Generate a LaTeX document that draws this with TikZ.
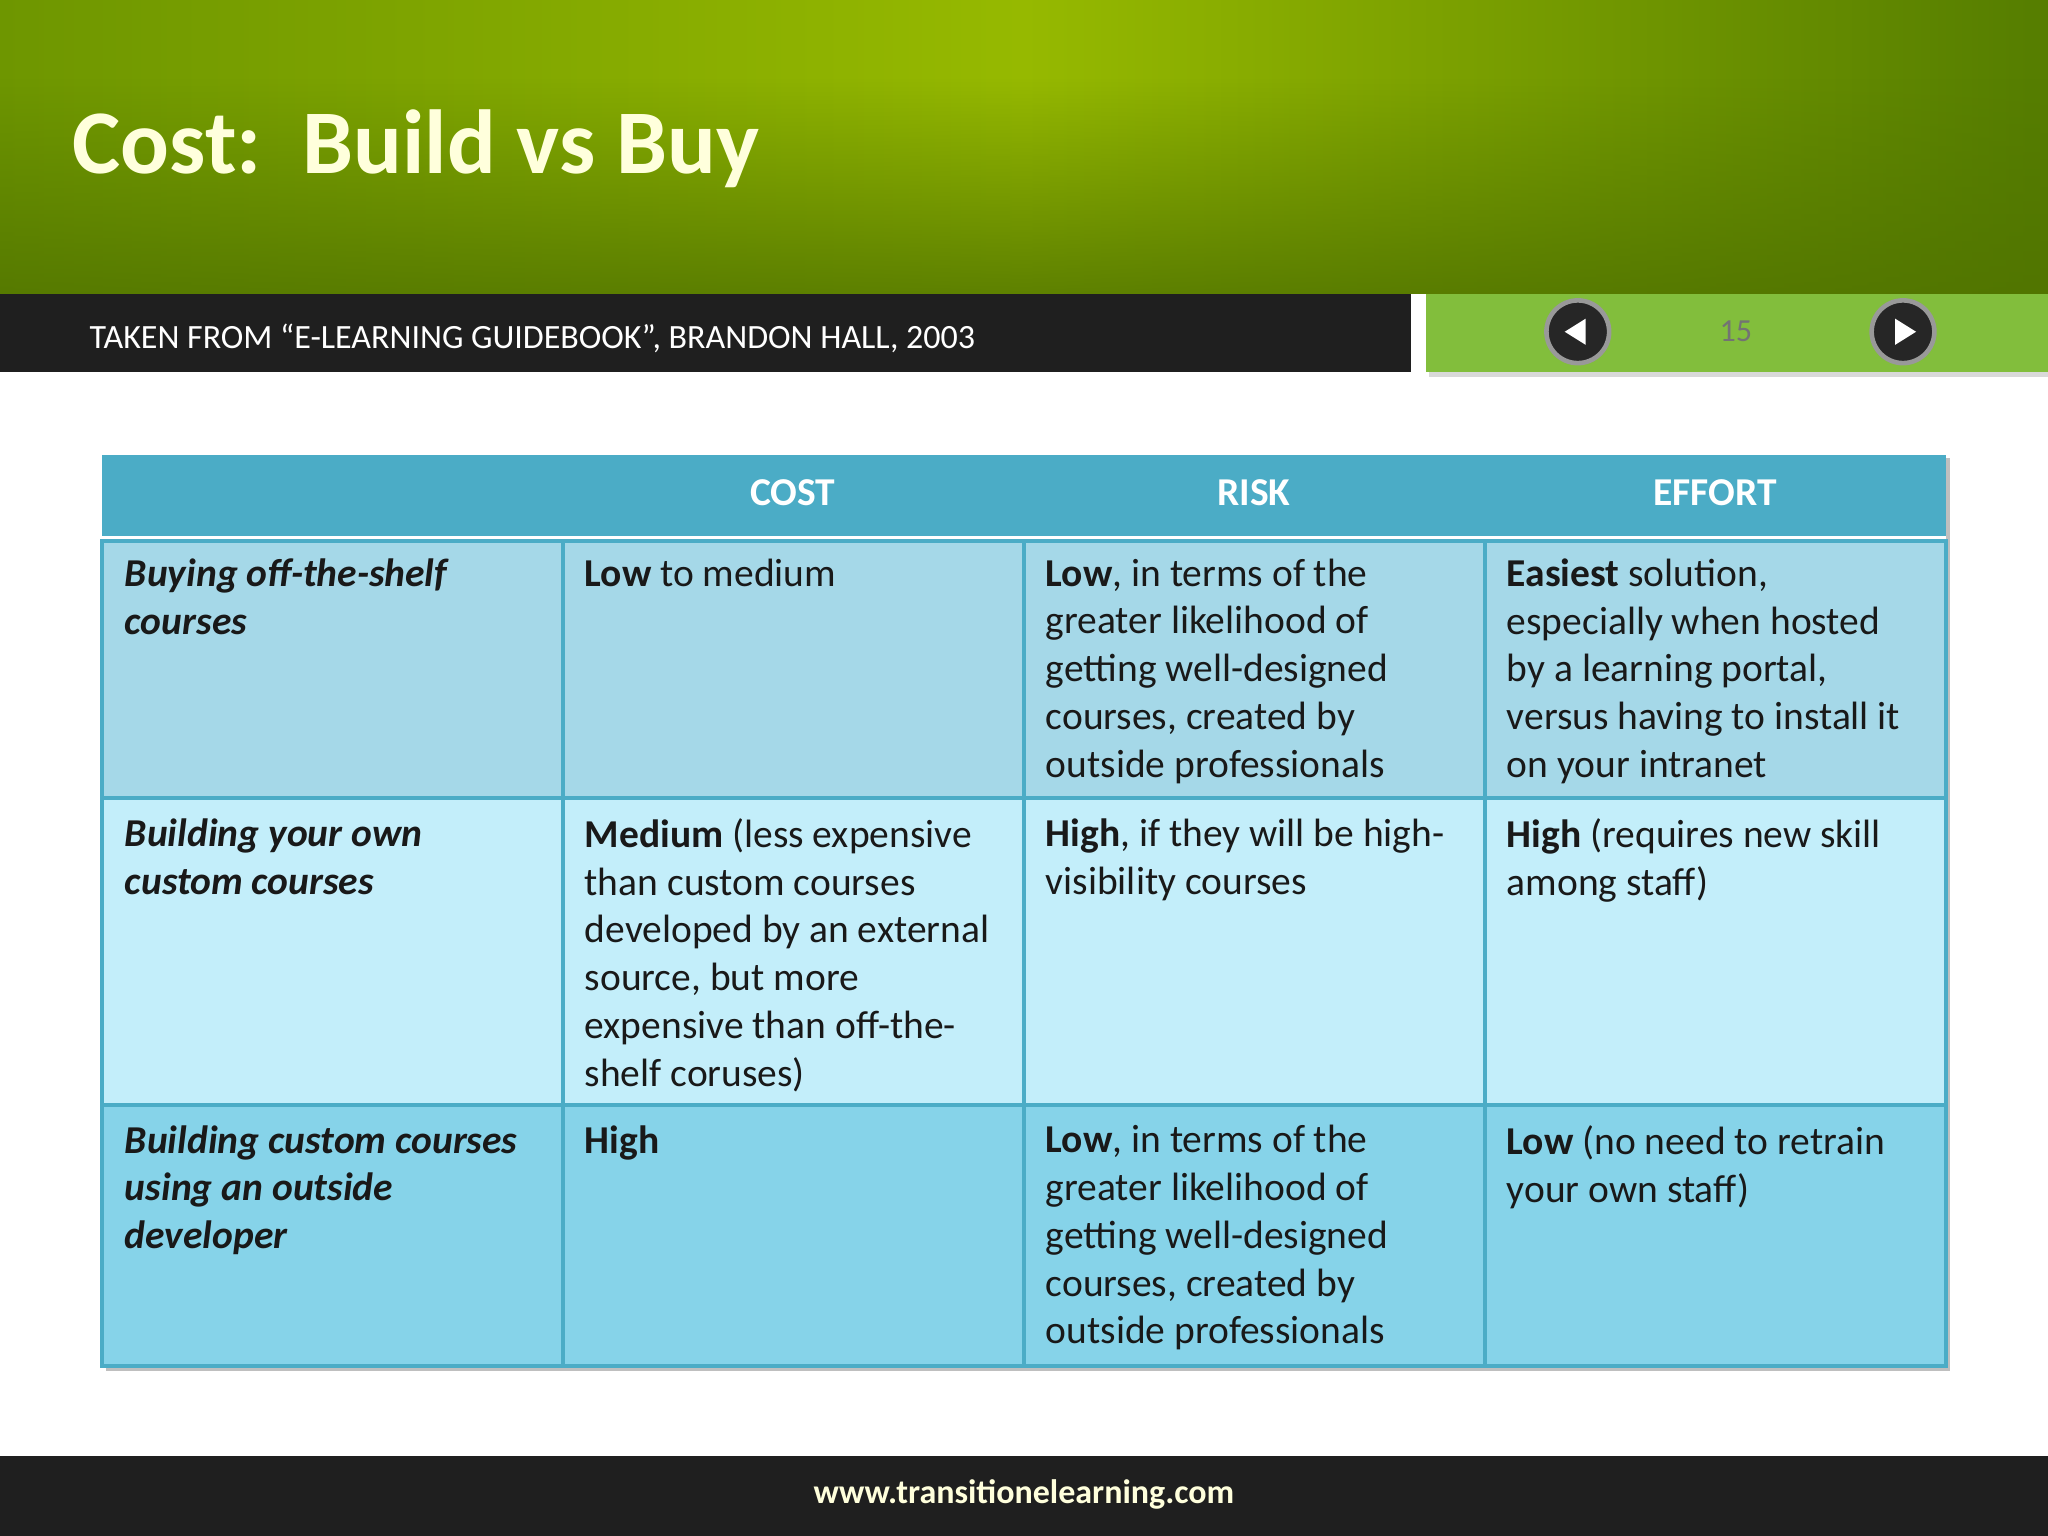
\documentclass[tikz,border=0pt]{standalone}
\usepackage{fontspec}
\usetikzlibrary{fadings}
\setmainfont{Carlito}
\definecolor{hdr}{RGB}{75,172,198}
\definecolor{r1}{RGB}{165,216,232}
\definecolor{r2}{RGB}{195,238,250}
\definecolor{r3}{RGB}{134,211,233}
\definecolor{gL}{RGB}{110,150,0}
\definecolor{gM}{RGB}{150,185,0}
\definecolor{gR}{RGB}{85,125,0}
\definecolor{gD}{RGB}{80,115,0}
\definecolor{gbar}{RGB}{130,190,60}
\definecolor{cream}{RGB}{255,255,220}
\begin{document}
\begin{tikzpicture}[x=0.01cm,y=-0.01cm,
  body/.style={anchor=north west,align=left,inner sep=0pt,font=\fontsize{8.6pt}{10.4pt}\selectfont,text=black!90},
  head/.style={text=white,font=\fontsize{8.6pt}{10pt}\selectfont\bfseries},
  btn/.style={circle,fill=black!85,draw=black!40,line width=1pt,minimum size=0.48cm,inner sep=0pt}]
\useasboundingbox (0,0) rectangle (1568,1176);
\fill[white] (0,0) rectangle (1568,1176);
% header
\shade[left color=gL, right color=gR, middle color=gM] (0,0) rectangle (1568,225);
\fill[gD, path fading=north, opacity=0.8] (0,60) rectangle (1568,225);
\node[anchor=base west,inner sep=0pt,text=cream,font=\fontsize{19.8pt}{22pt}\selectfont\bfseries] (title) at (55,133) {Cost:\ \ Build vs Buy};
\fill[black!88] (0,225) rectangle (1080,285);
\node[anchor=base west,inner sep=0pt,text=white,font=\fontsize{7.4pt}{8pt}\selectfont] (sub) at (68,267) {TAKEN FROM “E-LEARNING GUIDEBOOK”, BRANDON HALL, 2003};
\fill[black!15] (1094,229) rectangle (1568,289);
\fill[gbar] (1092,225) rectangle (1568,285);
\node[btn] (prev) at (1208,254) {};
\fill[white] (1198,254) -- (1214,244) -- (1214,264) -- cycle;
\node[btn] (next) at (1457,254) {};
\fill[white] (1467,254) -- (1451,244) -- (1451,264) -- cycle;
\node[text=black!55,font=\fontsize{7pt}{8pt}\selectfont] (pg) at (1329,254) {15};
% table
\fill[black!25] (81,351) rectangle (1493,1050);
\fill[hdr] (78,348) rectangle (1490,410);
\fill[white] (78,410) rectangle (1490,414);
\fill[r1] (78,414) rectangle (1490,611);
\fill[r2] (78,611) rectangle (1490,846);
\fill[r3] (78,846) rectangle (1490,1046);
\draw[hdr,line width=0.9pt] (78,414) rectangle (1490,1046)
  (78,611) -- (1490,611) (78,846) -- (1490,846)
  (431,414) -- (431,1046) (784,414) -- (784,1046) (1137,414) -- (1137,1046);
\node[head] (h1) at (607,377) {COST};
\node[head] (h2) at (960,377) {RISK};
\node[head] (h3) at (1313,377) {EFFORT};
\node[body] (a1) at (95,427) {\bfseries\itshape Buying off-the-shelf\\\bfseries\itshape courses};
\node[body] (a2) at (447,427) {\textbf{Low} to medium};
\node[body] (a3) at (800,427) {\textbf{Low}, in terms of the\\greater likelihood of\\getting well-designed\\courses, created by\\outside professionals};
\node[body] (a4) at (1153,427) {\textbf{Easiest} solution,\\especially when hosted\\by a learning portal,\\versus having to install it\\on your intranet};
\node[body] (b1) at (95,626) {\bfseries\itshape Building your own\\\bfseries\itshape custom courses};
\node[body] (b2) at (447,626) {\textbf{Medium} (less expensive\\than custom courses\\developed by an external\\source, but more\\expensive than off-the-\\shelf coruses)};
\node[body] (b3) at (800,626) {\textbf{High}, if they will be high-\\visibility courses};
\node[body] (b4) at (1153,626) {\textbf{High} (requires new skill\\among staff)};
\node[body] (c1) at (95,861) {\bfseries\itshape Building custom courses\\\bfseries\itshape using an outside\\\bfseries\itshape developer};
\node[body] (c2) at (447,861) {\textbf{High}};
\node[body] (c3) at (800,861) {\textbf{Low}, in terms of the\\greater likelihood of\\getting well-designed\\courses, created by\\outside professionals};
\node[body] (c4) at (1153,861) {\textbf{Low} (no need to retrain\\your own staff)};
% footer
\fill[black!88] (0,1115) rectangle (1568,1176);
\node[text=cream,font=\fontsize{7.4pt}{8pt}\selectfont\bfseries] (url) at (784,1144) {www.transitionelearning.com};
\end{tikzpicture}
\end{document}
